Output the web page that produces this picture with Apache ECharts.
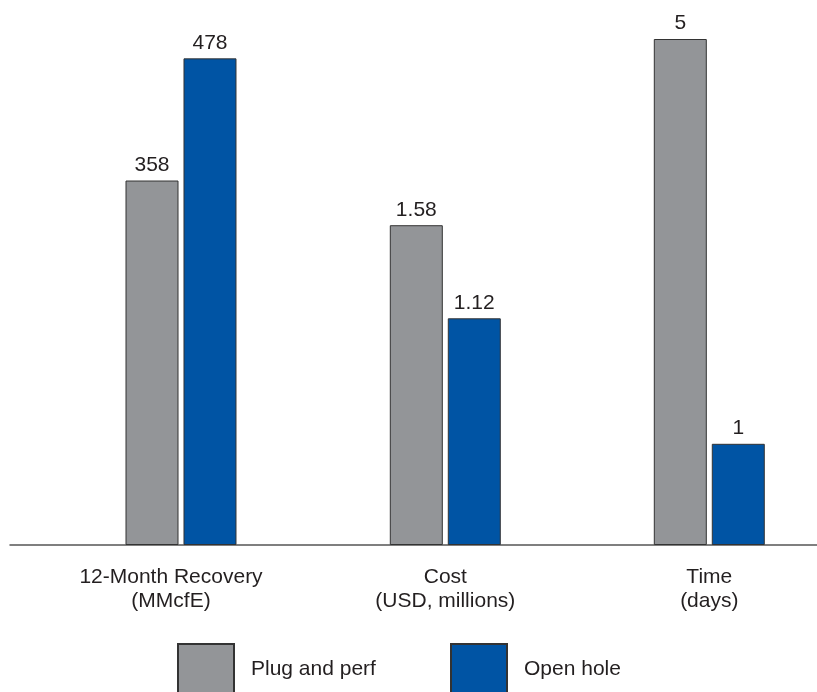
<!DOCTYPE html>
<html>
<head>
<meta charset="utf-8">
<script src="https://cdn.jsdelivr.net/npm/echarts@6/dist/echarts.min.js"></script>
<style>
html,body{margin:0;padding:0;background:#fff;}
#chart{width:817px;height:692px;}
</style>
</head>
<body>
<div id="chart"></div>
<script>
const categories = ['12-Month Recovery\n(MMcfE)', 'Cost\n(USD, millions)', 'Time\n(days)'];
const plugAndPerf = [358, 1.58, 5];
const openHole = [478, 1.12, 1];
const axisMax = [497, 2.5, 5];
const seriesNames = ['Plug and perf', 'Open hole'];

const FONT = '"Liberation Sans", Arial, Helvetica, sans-serif';
const TEXT = '#231f20';
const GRAY = '#939598';
const BLUE = '#0054a4';
const centers = [181, 445.3, 709.3];
const labelPad = [[0, 20, 0, 0], 0, 0];
const gw = 200;

const grids = [], xAxes = [], yAxes = [], series = [];
categories.forEach((cat, i) => {
  grids.push({left: centers[i] - gw / 2, width: gw, top: 39, bottom: 147});
  xAxes.push({
    type: 'category', gridIndex: i, data: [cat],
    axisLine: {show: false}, axisTick: {show: false},
    axisLabel: {margin: 20, fontSize: 21, lineHeight: 24, color: TEXT, fontFamily: FONT, padding: labelPad[i]}
  });
  yAxes.push({type: 'value', gridIndex: i, min: 0, max: axisMax[i], show: false});
  [[plugAndPerf, GRAY, seriesNames[0]], [openHole, BLUE, seriesNames[1]]].forEach(([arr, col, nm]) => {
    series.push({
      type: 'bar', name: nm, xAxisIndex: i, yAxisIndex: i,
      data: [arr[i]], barWidth: 53, barGap: '9.4%',
      itemStyle: {color: col, borderColor: '#333', borderWidth: 1},
      label: {show: true, position: 'top', distance: 5, fontSize: 21, color: TEXT, fontFamily: FONT},
      emphasis: {disabled: true}, animation: false
    });
  });
});
// baseline axis spanning full width
grids.push({left: 10, right: 0, top: 39, bottom: 147});
xAxes.push({type: 'value', gridIndex: 3, min: 0, max: 1, axisLine: {show: true, lineStyle: {color: '#555', width: 1.5}},
  axisTick: {show: false}, axisLabel: {show: false}, splitLine: {show: false}});
yAxes.push({type: 'value', gridIndex: 3, show: false});

const legendBase = {
  top: 643, padding: 0, itemWidth: 56, itemHeight: 50, icon: 'rect', selectedMode: false,
  textStyle: {fontSize: 21, color: TEXT, fontFamily: FONT, padding: [0, 0, 0, 12]}
};

const chart = echarts.init(document.getElementById('chart'), null, {renderer: 'canvas'});
chart.setOption({
  animation: false,
  backgroundColor: '#fff',
  grid: grids, xAxis: xAxes, yAxis: yAxes, series: series,
  legend: [
    Object.assign({}, legendBase, {left: 177, data: [seriesNames[0]]}),
    Object.assign({}, legendBase, {left: 450, data: [seriesNames[1]]})
  ]
});
</script>
</body>
</html>
